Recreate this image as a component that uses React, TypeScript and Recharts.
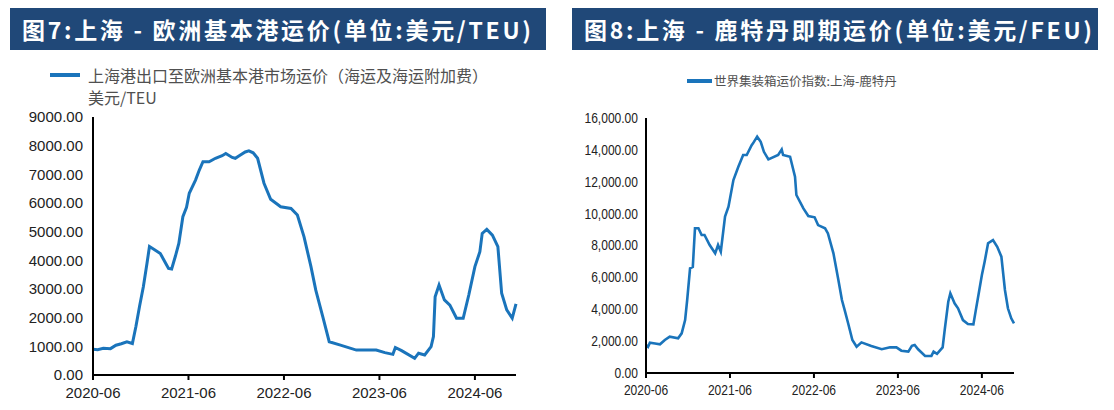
import React from 'react';
import { LineChart, Line, XAxis, YAxis } from 'recharts';

// 图7 上海-欧洲基本港运价 (美元/TEU)
const euDates = [
  '2020-06-01', '2020-06-19', '2020-07-10', '2020-08-07', '2020-08-28', '2020-09-18', '2020-10-09', '2020-10-30',
  '2020-11-13', '2020-11-27', '2020-12-11', '2020-12-25', '2021-01-04', '2021-01-22', '2021-02-15', '2021-03-05',
  '2021-03-16', '2021-03-28', '2021-04-12', '2021-04-25', '2021-05-10', '2021-05-24', '2021-06-04', '2021-06-28',
  '2021-07-12', '2021-07-26', '2021-08-19', '2021-09-13', '2021-10-08', '2021-10-22', '2021-11-16', '2021-11-28',
  '2021-12-11', '2022-01-05', '2022-01-19', '2022-02-05', '2022-02-22', '2022-03-16', '2022-04-11', '2022-05-19',
  '2022-06-28', '2022-07-22', '2022-08-17', '2022-09-13', '2022-10-01', '2022-10-28', '2022-11-22', '2023-01-01',
  '2023-03-04', '2023-05-19', '2023-06-22', '2023-07-22', '2023-08-01', '2023-08-25', '2023-10-14', '2023-10-29',
  '2023-11-22', '2023-12-16', '2023-12-25', '2024-01-01', '2024-01-16', '2024-02-06', '2024-02-27', '2024-03-22',
  '2024-04-17', '2024-05-08', '2024-06-01', '2024-06-20', '2024-06-29', '2024-07-16', '2024-08-07', '2024-08-28',
  '2024-09-12', '2024-10-01', '2024-10-22', '2024-11-06',
];
const euValues = [
  900, 880, 930, 920, 1040, 1090, 1160, 1100,
  1690, 2400, 3080, 3900, 4480, 4380, 4240, 3900,
  3720, 3700, 4150, 4590, 5520, 5850, 6340, 6800,
  7150, 7440, 7440, 7560, 7650, 7730, 7590, 7560,
  7640, 7780, 7820, 7750, 7560, 6690, 6130, 5870,
  5810, 5580, 4820, 3780, 2960, 2030, 1160, 1050,
  870, 870, 780, 720, 960, 850, 580, 760,
  700, 990, 1340, 2730, 3140, 2620, 2440, 1980,
  1980, 2790, 3780, 4300, 4940, 5080, 4880, 4480,
  2850, 2270, 1980, 2480,
];

// 图8 上海-鹿特丹即期运价 (美元/FEU)
const rtmDates = [
  '2020-06-01', '2020-06-10', '2020-06-18', '2020-07-10', '2020-08-01', '2020-08-22', '2020-09-13', '2020-10-19',
  '2020-11-04', '2020-11-19', '2020-11-28', '2020-12-10', '2020-12-22', '2021-01-01', '2021-01-16', '2021-01-30',
  '2021-02-12', '2021-03-04', '2021-03-28', '2021-04-10', '2021-04-22', '2021-05-10', '2021-05-25', '2021-06-16',
  '2021-07-07', '2021-07-28', '2021-08-13', '2021-09-04', '2021-09-10', '2021-09-28', '2021-10-13', '2021-10-27',
  '2021-11-16', '2021-12-28', '2022-01-13', '2022-01-19', '2022-02-19', '2022-03-10', '2022-03-16', '2022-04-16',
  '2022-05-07', '2022-06-04', '2022-06-19', '2022-07-19', '2022-08-01', '2022-08-25', '2022-09-16', '2022-10-01',
  '2022-10-13', '2022-10-28', '2022-11-16', '2022-12-04', '2022-12-25', '2023-02-07', '2023-03-22', '2023-04-28',
  '2023-05-25', '2023-06-16', '2023-07-16', '2023-08-01', '2023-08-13', '2023-08-28', '2023-09-28', '2023-10-25',
  '2023-11-04', '2023-11-19', '2023-12-13', '2023-12-22', '2024-01-07', '2024-01-16', '2024-02-04', '2024-02-19',
  '2024-03-10', '2024-04-01', '2024-04-25', '2024-05-04', '2024-05-19', '2024-06-01', '2024-06-13', '2024-06-28',
  '2024-07-19', '2024-08-07', '2024-08-25', '2024-09-10', '2024-09-23', '2024-10-07', '2024-10-19',
];
const rtmValues = [
  1760, 1640, 1900, 1850, 1800, 2070, 2280, 2180,
  2490, 3320, 4580, 6570, 6650, 9080, 9080, 8660,
  8660, 8030, 7510, 8030, 7610, 9810, 10430, 12110,
  12940, 13680, 13680, 14300, 14410, 14830, 14510, 13880,
  13400, 13680, 14030, 13680, 13570, 12320, 11170, 10330,
  9850, 9770, 9280, 9080, 8760, 7510, 5830, 4580,
  3950, 3120, 2070, 1650, 1920, 1690, 1490, 1610,
  1610, 1400, 1340, 1710, 1760, 1490, 1070, 1070,
  1340, 1200, 1610, 2700, 4470, 5000, 4370, 4060,
  3320, 3070, 3050, 3850, 5100, 6150, 6980, 8140,
  8340, 7920, 7300, 5210, 4060, 3430, 3120,
];

const tickMonths = [0, 12, 24, 36, 48];
const tickLabels = ['2020-06', '2021-06', '2022-06', '2023-06', '2024-06'];
const euTicks = [0, 1000, 2000, 3000, 4000, 5000, 6000, 7000, 8000, 9000];
const rtmTicks = [0, 2000, 4000, 6000, 8000, 10000, 12000, 14000, 16000];

const BLUE = '#1a74bb';
const NAVY = '#204878';
const ARIAL = '"Liberation Sans", Arial, sans-serif';

// months since 2020-06-01
const toMonths = (d: string) => {
  const [y, m, day] = d.split('-').map(Number);
  return (y - 2020) * 12 + (m - 6) + (day - 1) / 30.5;
};

const euData = euDates.map((d, i) => ({ t: toMonths(d), v: euValues[i] }));
const rtmData = rtmDates.map((d, i) => ({ t: toMonths(d), v: rtmValues[i] }));

const fmtX = (v: number) => tickLabels[tickMonths.indexOf(v)] ?? '';
const fmtMoney = (v: number) => v.toLocaleString('en-US', { minimumFractionDigits: 2, maximumFractionDigits: 2 });

// narrow-looking tick text for the right chart (squeezed horizontally)
function NarrowTick(props: any) {
  const { x, y, payload, textAnchor, fmt, dy } = props;
  return (
    <text
      transform={`translate(${x},${y}) scale(0.86,1)`}
      textAnchor={textAnchor}
      dy={dy}
      fill="#222"
      fontSize={14}
      fontFamily={ARIAL}
    >
      {fmt(payload.value)}
    </text>
  );
}

function TitleBar({ left, width, text }: { left: number; width: number; text: string }) {
  return (
    <div
      style={{
        position: 'absolute',
        left,
        top: 8,
        width,
        height: 42,
        background: NAVY,
        color: '#fff',
        fontFamily: '"Noto Sans CJK SC", sans-serif',
        fontWeight: 700,
        fontSize: 23,
        letterSpacing: 2.7,
        lineHeight: '42px',
        paddingLeft: 12,
        boxSizing: 'border-box',
        whiteSpace: 'nowrap',
      }}
    >
      {text}
    </div>
  );
}

export default function App() {
  return (
    <div
      style={{
        position: 'fixed',
        left: 0,
        top: 0,
        width: 1114,
        height: 410,
        background: '#fff',
        overflow: 'hidden',
      }}
    >
      <TitleBar left={10} width={536} text="图7:上海 - 欧洲基本港运价(单位:美元/TEU)" />
      <TitleBar left={572} width={526} text="图8:上海 - 鹿特丹即期运价(单位:美元/FEU)" />

      {/* left legend */}
      <div style={{ position: 'absolute', left: 50, top: 73, width: 30, height: 4, background: BLUE }} />
      <div
        style={{
          position: 'absolute',
          left: 88,
          top: 64,
          fontFamily: '"Noto Sans CJK SC", sans-serif',
          fontSize: 16,
          lineHeight: '22px',
          color: '#505050',
          whiteSpace: 'nowrap',
        }}
      >
        上海港出口至欧洲基本港市场运价（海运及海运附加费）
        <br />
        美元/TEU
      </div>

      {/* right legend */}
      <div style={{ position: 'absolute', left: 687, top: 79, width: 25, height: 4, background: BLUE }} />
      <div
        style={{
          position: 'absolute',
          left: 714,
          top: 72,
          fontFamily: '"Noto Sans CJK SC", sans-serif',
          fontSize: 12.5,
          lineHeight: '18px',
          color: '#505050',
          whiteSpace: 'nowrap',
        }}
      >
        世界集装箱运价指数:上海-鹿特丹
      </div>

      <div style={{ position: 'absolute', left: 0, top: 0 }}>
        <LineChart width={557} height={410} data={euData} margin={{ top: 117, right: 41, bottom: 0, left: 13 }}>
          <XAxis
            dataKey="t"
            type="number"
            domain={[0, 'dataMax']}
            ticks={tickMonths}
            tickFormatter={fmtX}
            stroke="#000"
            strokeWidth={2}
            tickSize={5}
            tickMargin={7}
            height={35}
            tick={{ fill: '#222', fontSize: 15, fontFamily: ARIAL }}
          />
          <YAxis
            type="number"
            domain={[0, 9000]}
            ticks={euTicks}
            tickFormatter={(v: number) => v.toFixed(2)}
            stroke="#000"
            strokeWidth={2}
            tickLine={false}
            tickMargin={4}
            width={80}
            interval={0}
            tick={{ fill: '#222', fontSize: 15, fontFamily: ARIAL }}
          />
          <Line type="linear" dataKey="v" stroke={BLUE} strokeWidth={3} dot={false} isAnimationActive={false} />
        </LineChart>
      </div>

      <div style={{ position: 'absolute', left: 557, top: 0 }}>
        <LineChart width={557} height={410} data={rtmData} margin={{ top: 118, right: 100, bottom: 0, left: 9 }}>
          <XAxis
            dataKey="t"
            type="number"
            domain={[0, 'dataMax']}
            ticks={tickMonths}
            stroke="#000"
            strokeWidth={2}
            tickSize={5}
            tickMargin={7}
            height={37}
            tick={<NarrowTick fmt={fmtX} dy="0.71em" />}
          />
          <YAxis
            type="number"
            domain={[0, 16000]}
            ticks={rtmTicks}
            stroke="#000"
            strokeWidth={2}
            tickLine={false}
            tickMargin={2}
            width={80}
            interval={0}
            tick={<NarrowTick fmt={fmtMoney} dy="0.355em" />}
          />
          <Line type="linear" dataKey="v" stroke={BLUE} strokeWidth={2.6} dot={false} isAnimationActive={false} />
        </LineChart>
      </div>
    </div>
  );
}
